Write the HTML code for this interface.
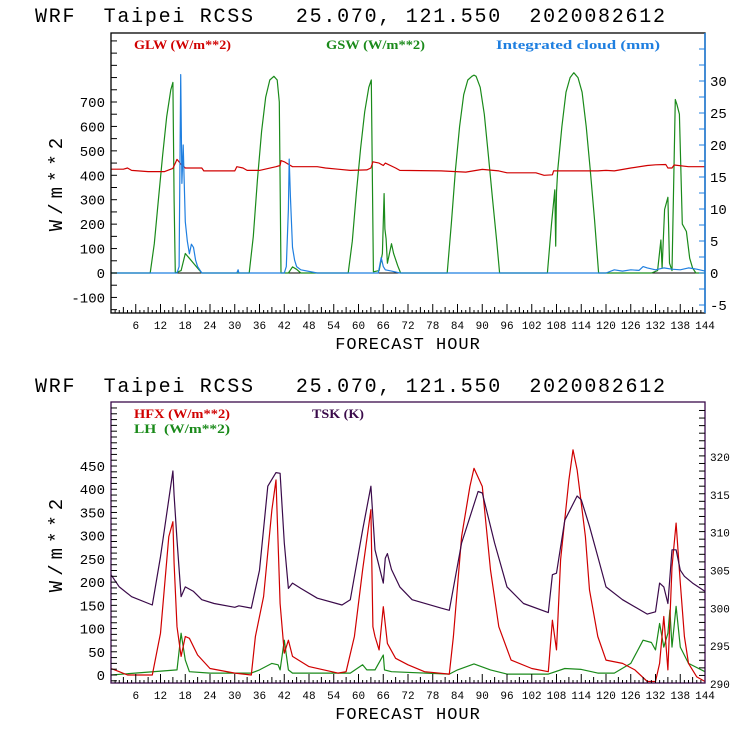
<!DOCTYPE html>
<html><head><meta charset="utf-8">
<style>
html,body{margin:0;padding:0;background:#fff;width:740px;height:740px;overflow:hidden}
svg{display:block}
text{font-family:"Liberation Mono","DejaVu Sans Mono",monospace}
</style></head>
<body>
<svg id="chart" width="740" height="740" viewBox="0 0 740 740" xmlns="http://www.w3.org/2000/svg"></svg>
<script>
// ---------- Top panel data ----------
const gswHours = [0,9.5,10.5,11.5,12.5,13.5,14.5,15,15.3,15.6,17,18,18.5,19,20,21,22,22.5,33.5,34.5,35.5,36.5,37.5,38.5,39.5,40.3,40.8,41.2,43,44,45,46,57.5,58.5,59.5,60.5,61.5,62.5,63.1,63.6,65,65.8,66.2,66.4,66.7,67,68,68.5,69.5,70.2,81.5,82.5,83.5,84.5,85.5,86.5,87.5,88,88.5,89.5,90.5,91.5,92.5,93.5,94.2,105.8,106.8,107.6,107.8,108,108.3,109.3,110.3,111.3,112.2,113.2,114.2,115.2,116.2,117.2,118.2,131,132.5,133.3,133.6,134.2,135,135.4,136,136.8,137.2,137.8,138.5,139.5,140.3,141,141.8,144];
const gswValues = [0,0,120,300,480,640,750,780,300,0,10,80,70,60,40,20,0,0,0,150,380,580,720,790,805,790,700,0,0,25,15,0,0,130,330,510,660,760,790,5,10,80,325,180,140,40,120,80,30,0,0,200,420,600,730,790,805,810,805,760,650,480,300,130,0,0,200,340,110,330,420,600,740,800,820,800,740,600,420,220,0,0,10,135,20,260,310,40,10,710,690,650,200,170,60,20,0,0];
const glwHours = [0,3,4,5,9,13,14.5,15,16,17,18,22,22.5,30,30.5,32,33,36,40,41,41.2,42,43,44,50,52,55,58,62,63,63.5,65,66,66.5,69,70,80,86,90,94,96,103,105,107,107.3,118,120,122,126,130,132,134.5,135,136,136.5,140,144];
const glwValues = [425,425,430,420,415,415,425,428,465,445,430,430,418,418,435,430,420,420,435,440,460,455,445,435,435,430,425,420,422,430,455,450,440,450,430,420,418,413,424,418,410,410,400,402,418,418,420,418,430,440,443,444,430,430,442,435,435];
const cloudHours = [0,16,16.5,16.9,17.2,17.5,18,18.5,19,19.5,20,20.5,21,22,30.5,30.8,31,42,42.5,43,43.2,43.5,44,44.5,45,46,50,64.8,65.5,66,66.5,68,70,120,122,124,126,128,129,130,132,134,136,138,140,142,144];
const cloudValues = [0,0,1,31,14,20,8,5,3,4.5,4,2,1,0,0,0.5,0,0,1,10,17.8,12,4,2,1,0.5,0,0,2.4,1,0.5,0.3,0,0,0.5,0.3,0.5,0.4,1,0.8,0.5,0.8,0.6,0.5,0.8,0.6,0.3];
// ---------- Bottom panel data ----------
const tskHours = [0,2,5,10,12,15,15.3,16,17,18,20,22,25,30,31,34,36,38,40,41,42,43,44,46,50,56,58,61,63,64,66,66.5,67,68,70,73,80,82,85,89,90,93,96,100,106,107,108,110,113,114,116,118,120,124,130,132,133,134,135,136,137,138,139,141,144];
const tskValues = [304.3,302.7,301.4,300.3,306.7,318,314.8,308.9,301.4,302.7,302.1,301,300.5,300,300.2,299.9,304.9,316,317.8,317.7,308.5,302.5,303.2,302.5,301.2,300.3,301,310.2,316,307.6,303.2,306.5,307.1,305,302.7,301,299.9,299.6,308.5,315.3,315.1,308.5,302.7,300.5,299.3,304.3,304.5,311.5,314.7,314.2,310.7,306.7,302.7,301,299.1,299.4,303.2,302.7,300.5,307.6,307.6,304.9,304.1,303.2,302.1];
const hfxHours = [0,2,4,10,12,14,15,15.3,16,17,18,19,21,24,30,34,35,37,39,40,41,42,43,44,48,55,57,59,61,63,63.5,64,65,66,67,69,72,76,82,83,85,87,88,90,92,94,97,102,106,107,108,109,111,112,113,115,116,118,120,124,127,130,132,133,134,135,136,137,138,139,140,142,144];
const hfxValues = [14,7,0,0,90,298,330,240,104,40,83,79,43,14,4,0,83,169,356,420,154,47,75,40,18,4,7,83,226,356,104,83,54,147,68,36,22,7,2,83,298,406,445,406,226,104,32,14,7,118,54,248,420,485,442,298,183,83,32,25,11,-14,-14,25,126,11,233,327,198,83,25,-4,-14];
const lhHours = [0,16,17,18,19,24,34,36,39,40.5,41,42,43,44,58,61,62,64,66,66.3,68,82,84,88,92,96,106,110,114,118,122,126,129,131,132,133,134,135,135.5,136,137,138,140,144];
const lhValues = [0,11,90,32,7,4,4,11,25,22,11,75,11,4,4,22,11,11,43,11,7,2,11,24,11,2,2,14,12,4,4,25,75,70,54,111,60,90,140,60,148,60,25,7];
// ---------- Tick labels ----------
const xTickLabels = ["6","12","18","24","30","36","42","48","54","60","66","72","78","84","90","96","102","108","114","120","126","132","138","144"];
const topLeftTicks = [-100,0,100,200,300,400,500,600,700];
const topRightTicks = [-5,0,5,10,15,20,25,30];
const botLeftTicks = [0,50,100,150,200,250,300,350,400,450];
const botRightTicks = [290,295,300,305,310,315,320];

const NS="http://www.w3.org/2000/svg";
const svg=document.getElementById('chart');
function el(tag,attrs,parent){const e=document.createElementNS(NS,tag);for(const k in attrs)e.setAttribute(k,attrs[k]);(parent||svg).appendChild(e);return e;}
function txt(s,attrs,parent){const e=el('text',attrs,parent);e.textContent=s;return e;}

const X0=111,X1=705;
const xs=h=>X0+(X1-X0)*h/144;

function panel(p){
  const g=el('g',{});
  
  
  const t=txt('WRF  Taipei RCSS   25.070, 121.550  2020082612',{x:35,y:p.titleY,'font-size':20,fill:'#000',style:'white-space:pre',textLength:630,lengthAdjust:'spacing'},g);
  
  
  const yL=v=>p.y0L+(v-p.vL0)*p.kL;
  const yR=v=>p.y0R+(v-p.vR0)*p.kR;
  if(p.zeroLine){const z=el('line',{x1:X0,x2:X1,y1:yL(0),y2:yL(0),stroke:'#000','stroke-width':1},g);
    }
  for(const s of p.series){
    const sc=s.axis==='R'?yR:yL;
    let d='';
    for(let i=0;i<s.h.length;i++){d+=(i?'L':'M')+xs(s.h[i]).toFixed(1)+','+sc(s.v[i]).toFixed(1);}
    const path=el('path',{d:d,fill:'none',stroke:s.color,'stroke-width':1.2,'stroke-linejoin':'round'},g);
    
    
  }
  const fr=el('rect',{x:X0,y:p.top,width:X1-X0,height:p.bot-p.top,fill:'none',stroke:p.frame,'stroke-width':1.3},g);
  
  
  if(p.rightColor){const rl=el('line',{x1:X1,x2:X1,y1:p.top,y2:p.bot,stroke:p.rightColor,'stroke-width':1.5},g);
    }
  for(let h=1;h<144;h++){
    const len=h%6===0?9:(h%3===0?6:3);
    el('line',{x1:xs(h),x2:xs(h),y1:p.bot,y2:p.bot-len,stroke:'#000','stroke-width':1},g);
  }
  xTickLabels.forEach(l=>{const tt=txt(l,{x:xs(+l),y:p.bot+16,'font-size':11,'text-anchor':'middle',fill:'#000'},g);
    });
  const xt=txt('FORECAST HOUR',{x:408,y:p.bot+36,'font-size':17,'text-anchor':'middle',fill:'#000','letter-spacing':'1'},g);
  
  for(let v=p.vL0;;v+=p.minorL){
    const y=yL(v); if(y<p.top+2)break; if(y<=p.bot-1) el('line',{x1:X0,x2:X0+6,y1:y,y2:y,stroke:'#000','stroke-width':1},g);
  }
  for(let v=p.vL0-p.minorL;;v-=p.minorL){const y=yL(v);if(y>p.bot-1)break;el('line',{x1:X0,x2:X0+6,y1:y,y2:y,stroke:'#000','stroke-width':1},g);}
  p.leftTicks.forEach(v=>{const tt=txt(String(v),{x:X0-6,y:yL(v)+5,'font-size':14,'text-anchor':'end',fill:'#000'},g);
    });
  for(let v=p.vR0;;v+=p.minorR){const y=yR(v);if(y<p.top+2)break;if(y<=p.bot-1)el('line',{x1:X1,x2:X1-6,y1:y,y2:y,stroke:p.rightColor||'#000','stroke-width':1},g);}
  for(let v=p.vR0-p.minorR;;v-=p.minorR){const y=yR(v);if(y>p.bot-1)break;el('line',{x1:X1,x2:X1-6,y1:y,y2:y,stroke:p.rightColor||'#000','stroke-width':1},g);}
  p.rightTicks.forEach(v=>{const tt=txt(String(v),{x:X1+5,y:yR(v)+5,'font-size':p.rFont,fill:'#000'},g);
    });
  const yt=txt('W/m**2',{x:0,y:0,'font-size':19,'text-anchor':'middle',fill:'#000','letter-spacing':'5',transform:'translate('+p.yTitleX+','+p.yTitleY+') rotate(-90)'},g);
  
  p.legend.forEach(l=>{const tt=txt(l.t,{x:l.x,y:l.y,'font-size':13,fill:l.c,style:'white-space:pre;font-family:"Liberation Serif",serif;font-weight:bold',textLength:l.w,lengthAdjust:'spacingAndGlyphs'},g);
    });
}

panel({name:'radiation-panel',titleY:22,top:33,bot:313,y0L:273,vL0:0,kL:-0.2443,minorL:50,y0R:273,vR0:0,kR:-6.4,minorR:2.5,
  frame:'#000',rightColor:'#1f7fe0',zeroLine:true,leftTicks:topLeftTicks,rightTicks:topRightTicks,rFont:14,yTitleX:62,yTitleY:182,
  series:[{name:'gsw-line',h:gswHours,v:gswValues,color:'#1a8a1a'},{name:'glw-line',h:glwHours,v:glwValues,color:'#d00000'},{name:'cloud-line',h:cloudHours,v:cloudValues,color:'#1f7fe0',axis:'R'}],
  legend:[{t:'GLW (W/m**2)',x:134,y:49,c:'#d00000',w:97},{t:'GSW (W/m**2)',x:326,y:49,c:'#1a8a1a',w:99},{t:'Integrated cloud (mm)',x:496,y:49,c:'#1f7fe0',w:164}]});

panel({name:'flux-panel',titleY:392,top:402,bot:683,y0L:675,vL0:0,kL:-0.4644,minorL:12.5,y0R:683,vR0:290,kR:-7.57,minorR:1,
  frame:'#3a0a4a',rightColor:null,zeroLine:false,leftTicks:botLeftTicks,rightTicks:botRightTicks,rFont:11,yTitleX:62,yTitleY:543,
  series:[{name:'lh-line',h:lhHours,v:lhValues,color:'#1a8a1a'},{name:'hfx-line',h:hfxHours,v:hfxValues,color:'#d00000'},{name:'tsk-line',h:tskHours,v:tskValues,color:'#3a0a4a',axis:'R'}],
  legend:[{t:'HFX (W/m**2)',x:134,y:418,c:'#d00000',w:96},{t:'LH  (W/m**2)',x:134,y:433,c:'#1a8a1a',w:96},{t:'TSK (K)',x:312,y:418,c:'#3a0a4a',w:52}]});
</script>
</body></html>
